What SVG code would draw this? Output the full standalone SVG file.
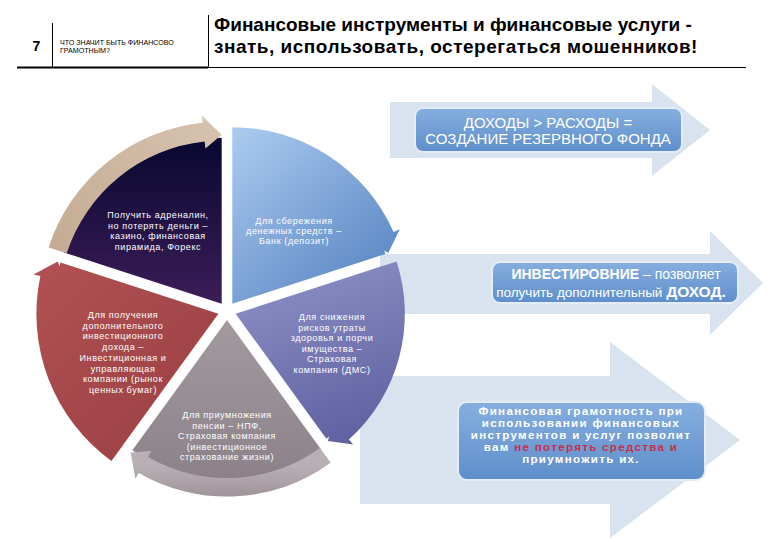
<svg xmlns="http://www.w3.org/2000/svg" width="780" height="540" viewBox="0 0 780 540">
<style>
.hdr{font-family:"Liberation Sans",Arial,sans-serif;fill:#000}
.pt{font-family:"Liberation Sans",Arial,sans-serif;font-size:9px;fill:#fff;text-anchor:middle;letter-spacing:0.6px}
.bt{font-family:"Liberation Sans",Arial,sans-serif;fill:#fff;text-anchor:middle}
.b3{font-size:11.6px;font-weight:bold;letter-spacing:1.3px}
.arr{fill:#d9e3f0}
.box{stroke:#e3ecf7;stroke-width:2}
</style>
<defs>
<linearGradient id="gBox" x1="0" y1="0" x2="0" y2="1">
<stop offset="0" stop-color="#86afdf"/><stop offset="1" stop-color="#5e8ecb"/>
</linearGradient>
<linearGradient id="gBlue" gradientUnits="userSpaceOnUse" x1="0" y1="-170" x2="150" y2="0">
<stop offset="0" stop-color="#a9c9ef"/><stop offset="1" stop-color="#5582c0"/>
</linearGradient>
<linearGradient id="gPurple" gradientUnits="userSpaceOnUse" gradientTransform="rotate(-72)" x1="0" y1="0" x2="60" y2="170">
<stop offset="0" stop-color="#8587bf"/><stop offset="1" stop-color="#5d5f9f"/>
</linearGradient>
<linearGradient id="gGray" gradientUnits="userSpaceOnUse" gradientTransform="rotate(-144)" x1="0" y1="0" x2="0" y2="180">
<stop offset="0" stop-color="#a39aa0"/><stop offset="1" stop-color="#8a7f87"/>
</linearGradient>
<linearGradient id="gGrayB" gradientUnits="userSpaceOnUse" gradientTransform="rotate(-144)" x1="0" y1="150" x2="0" y2="185">
<stop offset="0" stop-color="#b9b0b5"/><stop offset="1" stop-color="#9c9197"/>
</linearGradient>
<linearGradient id="gRed" gradientUnits="userSpaceOnUse" gradientTransform="rotate(-216)" x1="-170" y1="-50" x2="0" y2="120">
<stop offset="0" stop-color="#b05052"/><stop offset="1" stop-color="#9a4044"/>
</linearGradient>
<linearGradient id="gNavy" gradientUnits="userSpaceOnUse" gradientTransform="rotate(-288)" x1="0" y1="-170" x2="0" y2="0">
<stop offset="0" stop-color="#07072f"/><stop offset="1" stop-color="#3c1d58"/>
</linearGradient>
<linearGradient id="gTan" gradientUnits="userSpaceOnUse" gradientTransform="rotate(-288)" x1="-170" y1="-40" x2="0" y2="-185">
<stop offset="0" stop-color="#c4aa92"/><stop offset="1" stop-color="#d6c3b0"/>
</linearGradient>
<path id="wedge" d="M0,0 L0,-166 A166,166 0 0 1 157.88,-51.30 Z"/>
<path id="band" d="M0,-182 A182,182 0 0 1 166.27,-74.03 L172.66,-76.87 L160.73,-52.22 L142.51,-63.45 L148.91,-66.30 A163,163 0 0 0 0,-163 Z"/>
</defs>
<rect width="780" height="540" fill="#fff"/>

<g id="header">
<text class="hdr" x="36.5" y="51" font-size="14" font-weight="bold" text-anchor="middle">7</text>
<line x1="52.5" y1="23" x2="52.5" y2="68" stroke="#000" stroke-width="1"/>
<line x1="208.5" y1="15" x2="208.5" y2="68" stroke="#000" stroke-width="1"/>
<line x1="17" y1="67.5" x2="208" y2="67.5" stroke="#000" stroke-width="2"/>
<line x1="208" y1="67.5" x2="746" y2="67.5" stroke="#000" stroke-width="1"/>
<text class="hdr" x="60" y="45" font-size="7.1">ЧТО ЗНАЧИТ БЫТЬ ФИНАНСОВО</text>
<text class="hdr" x="60" y="53" font-size="7.1">ГРАМОТНЫМ?</text>
<text class="hdr" x="214" y="31" font-size="19" font-weight="bold">Финансовые инструменты и финансовые услуги -</text>
<text class="hdr" x="214" y="53" font-size="19" font-weight="bold" letter-spacing="0.5">знать, использовать, остерегаться мошенников!</text>
</g>

<g id="arrow1"><polygon class="arr" points="390,102 652,102 652,84 710,130 652,176 652,158 390,158"/></g>
<g id="arrow2"><polygon class="arr" points="380,254 710,254 710,231 763,283 710,335 710,314 380,314"/></g>
<g id="arrow3"><polygon class="arr" points="360,376 610,376 610,342 740,440 610,538 610,504 360,504"/></g>

<g id="seg-blue" transform="translate(232.3,303.7) scale(0.97)">
<use href="#wedge" fill="url(#gBlue)"/>
<use href="#band" fill="url(#gBlue)"/>
</g>
<g id="seg-purple" transform="translate(235.6,313.8) rotate(72) scale(0.93)">
<use href="#wedge" fill="url(#gPurple)"/>
<use href="#band" fill="url(#gPurple)"/>
</g>
<g id="seg-gray" transform="translate(227,320) rotate(144) scale(0.97)">
<use href="#wedge" fill="url(#gGray)"/>
<use href="#band" fill="url(#gGrayB)"/>
</g>
<g id="seg-red" transform="translate(218.4,313.8) rotate(216)">
<use href="#wedge" fill="url(#gRed)"/>
<use href="#band" fill="url(#gRed)"/>
</g>
<g id="seg-navy" transform="translate(221.7,303.7) rotate(288)">
<use href="#wedge" fill="url(#gNavy)"/>
<use href="#band" fill="url(#gTan)"/>
</g>

<g id="t-navy">
<text class="pt" x="158" y="218">Получить адреналин,</text>
<text class="pt" x="158" y="228.5">но потерять деньги –</text>
<text class="pt" x="158" y="239">казино, финансовая</text>
<text class="pt" x="158" y="249.5">пирамида, Форекс</text>
</g>
<g id="t-blue" style="fill:#eef3fb">
<text class="pt" x="294" y="224">Для сбережения</text>
<text class="pt" x="294" y="234">денежных средств –</text>
<text class="pt" x="294" y="244">Банк (депозит)</text>
</g>
<g id="t-red">
<text class="pt" x="123" y="318">Для получения</text>
<text class="pt" x="123" y="328.7">дополнительного</text>
<text class="pt" x="123" y="339.4">инвестиционного</text>
<text class="pt" x="123" y="350.1">дохода –</text>
<text class="pt" x="123" y="360.8">Инвестиционная и</text>
<text class="pt" x="123" y="371.5">управляющая</text>
<text class="pt" x="123" y="382.2">компании (рынок</text>
<text class="pt" x="123" y="392.9">ценных бумаг)</text>
</g>
<g id="t-purple">
<text class="pt" x="332" y="320">Для снижения</text>
<text class="pt" x="332" y="330.5">рисков утраты</text>
<text class="pt" x="332" y="341">здоровья и порчи</text>
<text class="pt" x="332" y="351.5">имущества –</text>
<text class="pt" x="332" y="362">Страховая</text>
<text class="pt" x="332" y="372.5">компания (ДМС)</text>
</g>
<g id="t-gray">
<text class="pt" x="227" y="418">Для приумножения</text>
<text class="pt" x="227" y="428.5">пенсии – НПФ,</text>
<text class="pt" x="227" y="439">Страховая компания</text>
<text class="pt" x="227" y="449.5">(инвестиционное</text>
<text class="pt" x="227" y="460">страхование жизни)</text>
</g>

<g id="box1">
<rect class="box" x="415" y="108" width="267" height="44" rx="8" fill="url(#gBox)"/>
<text class="bt" x="548" y="127.5" font-size="15">ДОХОДЫ &gt; РАСХОДЫ =</text>
<text class="bt" x="548" y="144" font-size="15">СОЗДАНИЕ РЕЗЕРВНОГО ФОНДА</text>
</g>
<g id="box2">
<rect class="box" x="492" y="262" width="246" height="41" rx="8" fill="url(#gBox)"/>
<text class="bt" x="616" y="279" font-size="14"><tspan font-weight="bold">ИНВЕСТИРОВНИЕ</tspan> – позволяет</text>
<text class="bt" x="611" y="297" font-size="13.5">получить дополнительный <tspan font-weight="bold" font-size="15.5">ДОХОД.</tspan></text>
</g>
<g id="box3">
<rect class="box" x="458" y="402" width="247" height="78" rx="9" fill="url(#gBox)"/>
<text class="bt b3" x="581" y="415">Финансовая грамотность при</text>
<text class="bt b3" x="581" y="427">использовании финансовых</text>
<text class="bt b3" x="581" y="439">инструментов и услуг позволит</text>
<text class="bt b3" x="581" y="451">вам <tspan fill="#c4304c">не потерять средства и</tspan></text>
<text class="bt b3" x="581" y="463" fill="#c4304c">приумножить их.</text>
</g>
</svg>
